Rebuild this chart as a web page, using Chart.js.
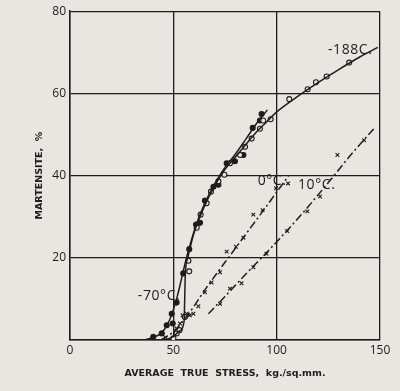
<!DOCTYPE html>
<html>
<head>
<meta charset="utf-8">
<script src="https://cdn.jsdelivr.net/npm/chart.js@4.4.0/dist/chart.umd.min.js"></script>
<style>
  html, body { margin: 0; padding: 0; background: #e7e6e1; }
  #wrap { width: 400px; height: 391px; }
</style>
</head>
<body>
<div id="wrap"><canvas id="chart" width="400" height="391"></canvas></div>
<script>
// axis range / ticks
const xTicks = [0, 50, 100, 150]
const yTicks = [0, 20, 40, 60, 80]

// -188 C : open circles
const c188X = [50, 51.6, 53, 55.6, 57.7, 57.3, 61.3, 63.2, 66.1, 68.2, 71.8, 74.7, 77.4, 82.3, 84.7, 87.9, 91.9, 93.5, 97.1, 106.1, 115, 119, 124.2, 135.1]
const c188Y = [0.4, 1.6, 2.4, 5.6, 16.7, 19.3, 27.3, 30.5, 33.3, 36.1, 38.6, 40.2, 43, 45, 47, 49, 51.4, 53.4, 53.7, 58.6, 61, 62.7, 64.1, 67.5]
// -188 C : drawn curve
const c188CurveX = [46, 50, 53, 55.2, 55.5, 55.8, 57, 60, 65, 70, 75, 80, 85, 90, 95, 100, 110, 120, 130, 140, 149]
const c188CurveY = [0, 0.8, 2.2, 4.5, 10, 16, 20, 26, 32.5, 37.5, 41.5, 44.5, 47.5, 50.5, 53, 55.5, 59.2, 62.6, 65.8, 68.8, 71.2]

// -70 C : filled circles
const c70X = [40.3, 44.4, 46.8, 49.2, 49.7, 51.6, 54.8, 57.7, 61, 62.9, 65.3, 69.4, 71.8, 75.8, 79.8, 83.9, 88.4, 91.9, 92.7]
const c70Y = [0.8, 1.6, 3.6, 6.4, 4, 9.1, 16.2, 22.1, 28.1, 28.5, 33.9, 37.3, 37.8, 43, 43.5, 45, 51.6, 53.4, 55]
const c70CurveX = [36, 40, 44, 47, 49.5, 52, 54, 56, 58, 61, 65, 70, 75, 80, 85, 90, 95.5]
const c70CurveY = [0, 0.6, 1.6, 3.6, 6.6, 10.8, 15, 19.3, 23, 28, 33, 38, 42, 45.2, 48.8, 52.5, 56]

// 0 C : crosses
const c0X = [46.3, 51.6, 53.2, 54.5, 56.5, 58, 59.7, 62.1, 65.3, 68.5, 72.6, 75.8, 80.3, 83.9, 88.7, 93.2, 99.7, 105.5]
const c0Y = [0.6, 2.8, 4, 6, 6.4, 6, 6.4, 8.2, 11.6, 14, 16.5, 21.5, 22.7, 24.9, 30.5, 31.6, 36.9, 38.1]
const c0CurveX = [44, 50, 55, 60, 65, 70, 75, 80, 85, 90, 95, 100, 105.7]
const c0CurveY = [0, 2, 4.8, 8.2, 12, 15.5, 18.9, 22.3, 25.7, 29.1, 32.5, 36, 39.9]

// 10 C : crosses
const c10X = [72.6, 77.4, 83, 88.7, 95.1, 105.1, 114.8, 121, 129.4, 142.3]
const c10Y = [8.8, 12.5, 13.8, 17.7, 21, 26.5, 31.3, 34.9, 45, 48.6]
const c10CurveX = [67, 75, 85, 95, 105, 115, 125, 135, 147]
const c10CurveY = [6.4, 10.6, 16, 21.2, 26.6, 32.3, 38.3, 44.5, 51.4]

// curve labels (text, anchored in data units)
const curveLabels = [
  { text: '-188C.', x: 124.8, y: 70.6 },
  { text: '-70°C.', x: 32.8, y: 10.8 },
  { text: '0°C.', x: 90.8, y: 38.8 },
  { text: '10°C.', x: 110.3, y: 37.8 }
]

const INK = '#1d1d1b'

function pts(xs, ys) {
  return xs.map((x, i) => ({ x, y: ys[i] }))
}

function curve(xs, ys, dash) {
  return {
    type: 'line',
    data: pts(xs, ys),
    borderColor: INK,
    borderWidth: 1.5,
    borderDash: dash || [],
    pointRadius: 0,
    cubicInterpolationMode: 'monotone',
    fill: false
  }
}

function marks(xs, ys, style, filled) {
  return {
    type: 'scatter',
    data: pts(xs, ys),
    pointStyle: style,
    pointRadius: style === 'crossRot' ? 2.6 : 2.5,
    pointBorderWidth: 1.1,
    pointBorderColor: INK,
    pointBackgroundColor: filled ? INK : '#e7e6e1'
  }
}

// draws the temperature labels beside each curve
const labelPlugin = {
  id: 'curveLabels',
  afterDatasetsDraw(chart) {
    const { ctx, scales: { x, y } } = chart
    ctx.save()
    ctx.fillStyle = INK
    ctx.font = '14px "Open Sans", sans-serif'
    ctx.letterSpacing = '0.6px'
    ctx.textAlign = 'left'
    ctx.textBaseline = 'middle'
    curveLabels.forEach(l => {
      ctx.fillText(l.text, x.getPixelForValue(l.x), y.getPixelForValue(l.y))
    })
    ctx.restore()
  }
}

const dashDot = [8, 3, 2, 3]

new Chart(document.getElementById('chart'), {
  data: {
    datasets: [
      curve(c188CurveX, c188CurveY),
      curve(c70CurveX, c70CurveY),
      curve(c0CurveX, c0CurveY, dashDot),
      curve(c10CurveX, c10CurveY, dashDot),
      marks(c188X, c188Y, 'circle', false),
      marks(c70X, c70Y, 'circle', true),
      marks(c0X, c0Y, 'crossRot', false),
      marks(c10X, c10Y, 'crossRot', false)
    ]
  },
  options: {
    responsive: false,
    animation: false,
    layout: { padding: { left: 0, top: 8, right: 20, bottom: 0 } },
    plugins: {
      legend: { display: false },
      tooltip: { enabled: false }
    },
    scales: {
      x: {
        type: 'linear',
        min: xTicks[0],
        max: xTicks[xTicks.length - 1],
        afterBuildTicks: s => { s.ticks = xTicks.map(v => ({ value: v })) },
        afterFit: s => { s.height = 51 },
        grid: { color: INK, lineWidth: 1.3, drawTicks: false },
        border: { color: INK, width: 1.5 },
        ticks: {
          color: INK,
          padding: 3,
          font: { family: '"Open Sans", sans-serif', size: 12 }
        },
        title: {
          display: true,
          text: 'AVERAGE  TRUE  STRESS,  kg./sq.mm.',
          color: INK,
          font: { family: '"DejaVu Sans", sans-serif', size: 9.5, weight: 'bold' },
          padding: { top: 0, bottom: 12 }
        }
      },
      y: {
        type: 'linear',
        min: yTicks[0],
        max: yTicks[yTicks.length - 1],
        afterBuildTicks: s => { s.ticks = yTicks.map(v => ({ value: v })) },
        afterFit: s => { s.width = 70 },
        grid: { color: INK, lineWidth: 1.3, drawTicks: false },
        border: { color: INK, width: 1.5 },
        ticks: {
          color: INK,
          padding: 4,
          callback: v => (v === 0 ? '' : v),
          font: { family: '"Open Sans", sans-serif', size: 12 }
        },
        title: {
          display: true,
          text: 'MARTENSITE,  %',
          color: INK,
          font: { family: '"DejaVu Sans", sans-serif', size: 9.5, weight: 'bold' },
          padding: { top: 34, bottom: 0 }
        }
      }
    }
  },
  plugins: [labelPlugin]
})
</script>
</body>
</html>
